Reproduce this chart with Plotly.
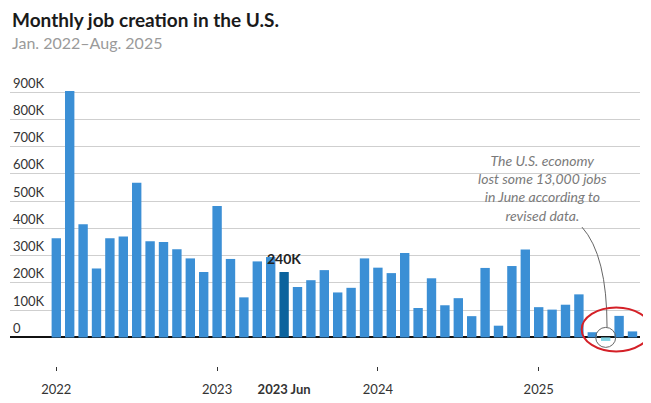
import plotly.graph_objects as go

years = [2022, 2023, 2024, 2025]
month_names = ["Jan", "Feb", "Mar", "Apr", "May", "Jun", "Jul", "Aug", "Sep", "Oct", "Nov", "Dec"]
months = [f"{y} {m}" for y in years for m in month_names][:44]  # Jan 2022 - Aug 2025

# Monthly job creation (thousands)
jobs_k = [
    364, 905, 415, 253, 364, 370, 568, 353, 350, 324, 290, 240,   # 2022
    482, 288, 147, 279, 295, 240, 185, 210, 247, 165, 182, 290,   # 2023
    256, 236, 310, 108, 217, 118, 144, 78, 255, 43, 262, 323,     # 2024
    111, 102, 120, 158, 19, -13, 79, 22,                          # 2025
]
jobs = [v * 1000 for v in jobs_k]

highlight_month = "2023 Jun"
revised_month = "2025 Jun"

x_tickvals = ["2022 Jan", "2023 Jan", "2023 Jun", "2024 Jan", "2025 Jan"]
x_ticktext = ["2022", "2023", "<b>2023 Jun</b>", "2024", "2025"]
y_tickvals = [0, 100000, 200000, 300000, 400000, 500000, 600000, 700000, 800000, 900000]
y_ticktext = ["0", "100K", "200K", "300K", "400K", "500K", "600K", "700K", "800K", "900K"]

BLUE = "#3b8fd5"
DARK = "#0b639d"
CYAN = "#7fd4e4"
colors = []
for m, v in zip(months, jobs):
    if m == highlight_month:
        colors.append(DARK)
    elif v < 0:
        colors.append(CYAN)
    else:
        colors.append(BLUE)

FONT = "Lato"
X_RANGE = [-3.455, 43.56]
Y_RANGE = [-105000, 1000000]

fig = go.Figure(go.Bar(x=months, y=jobs, marker=dict(color=colors, line=dict(width=0)),
                       hoverinfo="x+y"))

hi = months.index(highlight_month)
ri = months.index(revised_month)
# paper-space anchor of the revised bar's base (so the red mark is not clipped)
ri_paper_x = (ri - X_RANGE[0]) / (X_RANGE[1] - X_RANGE[0])
zero_paper_y = (0 - Y_RANGE[0]) / (Y_RANGE[1] - Y_RANGE[0])

annotations = [
    dict(text="<b>Monthly job creation in the U.S.</b>", xref="paper", yref="paper",
         x=0, y=1.1499, xanchor="left", yanchor="middle", showarrow=False,
         font=dict(family=FONT, size=19, color="#1a1a1a")),
    dict(text="Jan. 2022\u2013Aug. 2025", xref="paper", yref="paper",
         x=0, y=1.0735, xanchor="left", yanchor="middle", showarrow=False,
         font=dict(family=FONT, size=16, color="#9a9a9a")),
    dict(text="<b>240K</b>", x=hi, y=jobs[hi], xref="x", yref="y", yanchor="bottom",
         yshift=3, showarrow=False, font=dict(family=FONT, size=14, color="#222222")),
    dict(text="The U.S. economy<br>lost some 13,000 jobs<br>in June according to<br>revised data.",
         x=36.3, y=547000, xref="x", yref="y", xanchor="center", yanchor="middle",
         showarrow=False, align="center",
         font=dict(family=FONT, size=14, color="#7a7a7a", style="italic")),
]

shapes = [
    # connector curve
    dict(type="path", xref="x", yref="y",
         path=f"M {ri - 1.77},405000 Q {ri + 0.1},302000 {ri + 0.1},38000",
         line=dict(color="#666666", width=1)),
    # magnifier circle
    dict(type="circle", xref="x", yref="y", xsizemode="pixel", ysizemode="pixel",
         xanchor=ri, yanchor=0, x0=-10, x1=10, y0=-10, y1=10,
         line=dict(color="#666666", width=1)),
    # red hand-drawn ellipse
    dict(type="circle", xref="paper", yref="paper", xsizemode="pixel", ysizemode="pixel",
         xanchor=ri_paper_x, yanchor=zero_paper_y, x0=-24, x1=45, y0=-14, y1=30,
         line=dict(color="#d42027", width=2)),
]

fig.update_layout(
    width=643, height=395,
    margin=dict(l=2, r=11, t=57, b=37, pad=0),
    paper_bgcolor="white", plot_bgcolor="white",
    bargap=0.3, showlegend=False,
    annotations=annotations, shapes=shapes,
    font=dict(family=FONT, color="#333333"),
    xaxis=dict(type="category", range=X_RANGE, tickvals=x_tickvals, ticktext=x_ticktext,
               ticks="", showgrid=False, showline=False, zeroline=False,
               tickfont=dict(family=FONT, size=13, color="#333333"), ticklabelstandoff=14,
               minor=dict(tickvals=["2022 Jan", "2023 Jan", "2024 Jan", "2025 Jan"],
                          ticks="outside", ticklen=4, tickcolor="#333333", tickwidth=1)),
    yaxis=dict(range=Y_RANGE, tickvals=y_tickvals, ticktext=y_ticktext,
               ticklabelposition="inside top", showgrid=True, gridcolor="#cfcfcf", gridwidth=1,
               zeroline=True, zerolinecolor="#111111", zerolinewidth=1.5,
               showline=False, ticks="",
               tickfont=dict(family=FONT, size=13, color="#333333")),
)

fig.write_html("out.html")
